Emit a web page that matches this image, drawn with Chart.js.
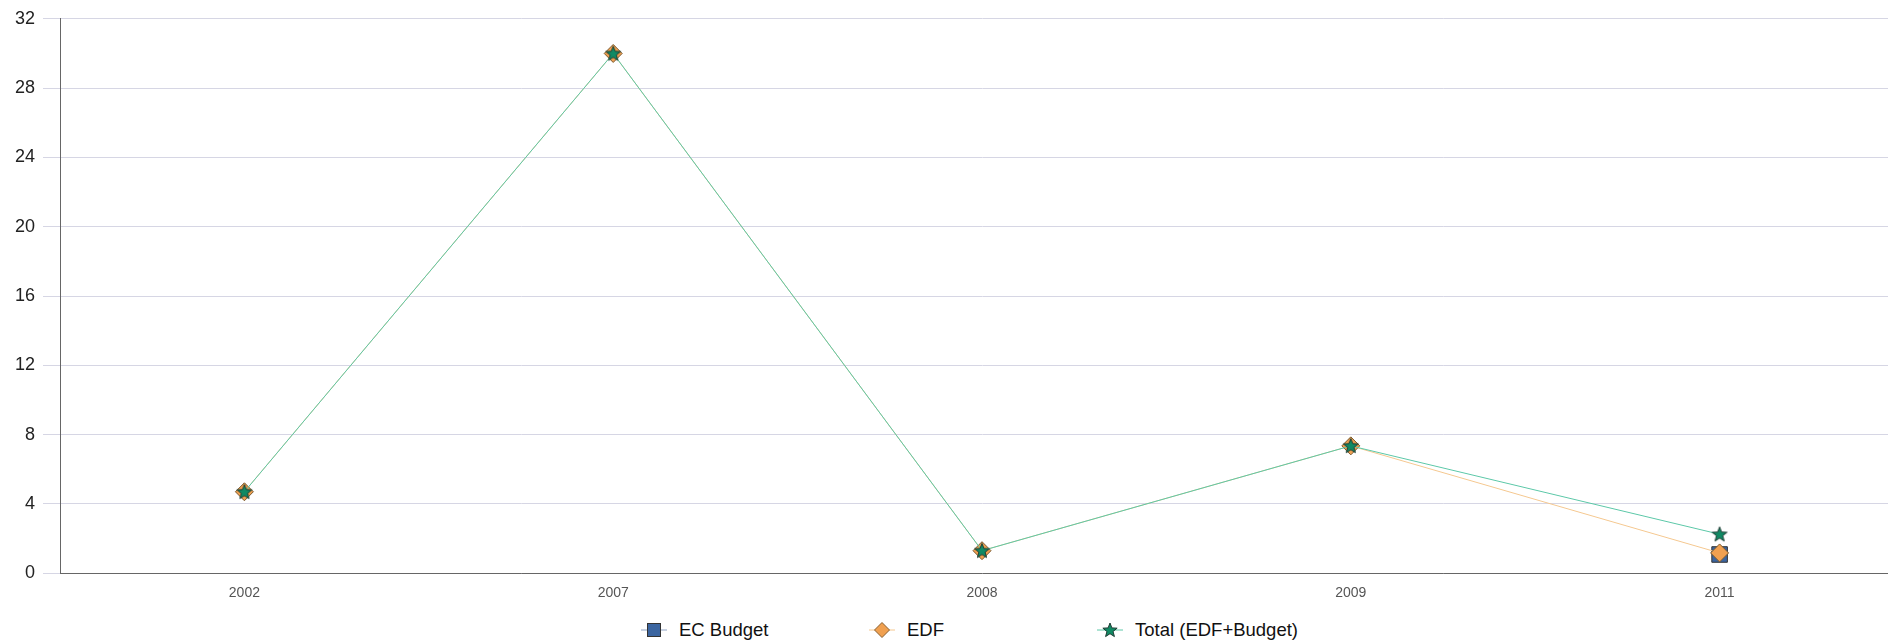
<!DOCTYPE html>
<html>
<head>
<meta charset="utf-8">
<script src="https://cdn.jsdelivr.net/npm/chart.js@4.4.1/dist/chart.umd.min.js"></script>
<style>
  html, body { margin: 0; padding: 0; background: #fff; overflow: hidden; }
  #wrap { position: relative; width: 1888px; height: 643px; overflow: hidden; }
  #myChart { position: absolute; left: 0; top: 0; }
  .leg { position: absolute; top: 620px; height: 20px; display: flex; align-items: center;
         font-family: "Liberation Sans", Arial, sans-serif; font-size: 18.5px; color: #111; }
  .leg svg { margin-right: 12px; }
</style>
</head>
<body>
<div id="wrap">
  <canvas id="myChart" width="1916" height="617"></canvas>
  <div class="leg" style="left:641px">
    <svg width="26" height="20"><line x1="0" y1="10" x2="26" y2="10" stroke="#8fa3c4" stroke-width="1"/><rect x="6.5" y="3.5" width="13" height="13" fill="#3b65a0" stroke="#333" stroke-width="1"/></svg>EC Budget
  </div>
  <div class="leg" style="left:869px">
    <svg width="26" height="20"><line x1="0" y1="10" x2="26" y2="10" stroke="#f5c890" stroke-width="1"/><polygon points="13,2.5 20.5,10 13,17.5 5.5,10" fill="#f0a050" stroke="#8a6030" stroke-width="1"/></svg>EDF
  </div>
  <div class="leg" style="left:1097px">
    <svg width="26" height="20"><line x1="0" y1="10" x2="26" y2="10" stroke="#5cc8a8" stroke-width="1"/><polygon id="legStar" fill="#108a64" stroke="#1d3b33" stroke-width="1"/></svg>Total (EDF+Budget)
  </div>
</div>
<script>
const years = ['2002', '2007', '2008', '2009', '2011'];
const ecBudget = [null, null, null, null, 1.08];
const edf = [4.7, 30, 1.3, 7.35, 1.17];
const total = [4.7, 30, 1.3, 7.35, 2.25];
const yTicks = [0, 4, 8, 12, 16, 20, 24, 28, 32];

function starPoints(cx, cy, outer, inner) {
  const pts = [];
  for (let i = 0; i < 10; i++) {
    const r = i % 2 === 0 ? outer : inner;
    const a = -Math.PI / 2 + i * Math.PI / 5;
    pts.push([cx + r * Math.cos(a), cy + r * Math.sin(a)]);
  }
  return pts;
}

document.getElementById('legStar').setAttribute('points',
  starPoints(13, 10.5, 7.5, 3.2).map(p => p.join(',')).join(' '));

function makeStar() {
  const c = document.createElement('canvas');
  c.width = 20; c.height = 20;
  const g = c.getContext('2d');
  const pts = starPoints(10, 10.5, 7.8, 3.3);
  g.beginPath();
  pts.forEach((p, i) => i ? g.lineTo(p[0], p[1]) : g.moveTo(p[0], p[1]));
  g.closePath();
  g.fillStyle = '#108a64';
  g.fill();
  g.strokeStyle = '#1d3b33';
  g.lineWidth = 1;
  g.stroke();
  return c;
}

function createChart() {
  const ctx = document.getElementById('myChart').getContext('2d');
  const star = makeStar();

  new Chart(ctx, {
    type: 'line',
    data: {
      labels: years,
      datasets: [{
        label: 'EC Budget',
        data: ecBudget,
        order: 3,
        borderColor: '#8fa3c4',
        borderWidth: 1,
        backgroundColor: '#3b65a0',
        pointStyle: 'rect',
        pointRadius: 11,
        pointBorderColor: '#333',
        pointBorderWidth: 1,
        pointBackgroundColor: '#3b65a0'
      }, {
        label: 'EDF',
        data: edf,
        order: 2,
        borderColor: '#f5c890',
        borderWidth: 1,
        pointStyle: 'rectRot',
        pointRadius: 9,
        pointBorderColor: '#7a5a30',
        pointBorderWidth: 1,
        pointBackgroundColor: '#f0a050'
      }, {
        label: 'Total (EDF+Budget)',
        data: total,
        order: 1,
        borderColor: '#5cc8a8',
        borderWidth: 1,
        pointStyle: star,
        pointRadius: 9
      }]
    },
    options: {
      responsive: false,
      animation: false,
      layout: { padding: { top: 10, right: 10, bottom: 3, left: 0 } },
      plugins: {
        legend: { display: false },
        tooltip: { enabled: false }
      },
      scales: {
        x: {
          offset: true,
          grid: { display: false, drawTicks: false },
          border: { display: true, color: '#666', width: 1 },
          ticks: {
            color: '#555',
            padding: 12,
            font: { family: '"Liberation Sans", Arial, sans-serif', size: 14 }
          }
        },
        y: {
          min: 0,
          max: 32,
          afterFit: function (s) { s.width = 60; },
          afterBuildTicks: function (s) { s.ticks = yTicks.map(v => ({ value: v })); },
          grid: { color: '#d6d6e4', tickLength: 17, drawTicks: true },
          border: { display: true, color: '#666', width: 1 },
          ticks: {
            color: '#222',
            padding: 8,
            font: { family: '"Liberation Sans", Arial, sans-serif', size: 18 }
          }
        }
      }
    }
  });
}

window.onload = createChart;
</script>
</body>
</html>
